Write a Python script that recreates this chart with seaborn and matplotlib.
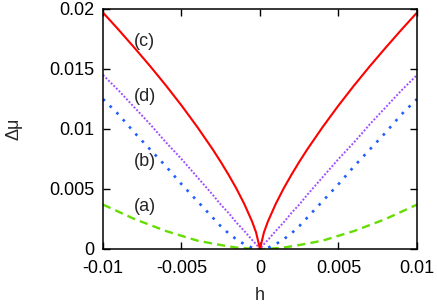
import matplotlib
matplotlib.use("Agg")
import matplotlib.pyplot as plt
import seaborn as sns
import pandas as pd

# h grid, symmetric about 0
h = [-0.01, -0.009, -0.008, -0.007, -0.006, -0.005, -0.004, -0.003, -0.0025, -0.002,
     -0.0015, -0.001, -0.0005, -0.00025,
     0.0,
     0.00025, 0.0005, 0.001, 0.0015,
     0.002, 0.0025, 0.003, 0.004, 0.005, 0.006, 0.007, 0.008, 0.009, 0.01]

mu_a = [0.0037, 0.0031, 0.0025, 0.0020, 0.0015, 0.0011, 0.0007, 0.00045, 0.00033, 0.00022,
        0.00012, 0.00006, 0.00002, 0.000005,
        0.0,
        0.000005, 0.00002, 0.00006, 0.00012,
        0.00022, 0.00033, 0.00045, 0.0007, 0.0011, 0.0015, 0.0020, 0.0025, 0.0031, 0.0037]
mu_b = [0.0125, 0.0112, 0.0097, 0.0083, 0.0069, 0.0054, 0.0040, 0.0026, 0.0019, 0.0013,
        0.0008, 0.0004, 0.0001, 0.00003,
        0.0,
        0.00003, 0.0001, 0.0004, 0.0008,
        0.0013, 0.0019, 0.0026, 0.0040, 0.0054, 0.0069, 0.0083, 0.0097, 0.0112, 0.0125]
mu_c = [0.0197, 0.01826, 0.01677, 0.01524, 0.01364, 0.01196, 0.01018, 0.00828, 0.00726, 0.00618,
        0.00503, 0.00375, 0.00228, 0.00138,
        0.0,
        0.00138, 0.00228, 0.00375, 0.00503,
        0.00618, 0.00726, 0.00828, 0.01018, 0.01196, 0.01364, 0.01524, 0.01677, 0.01826, 0.0197]
mu_d = [0.0145, 0.0132, 0.0118, 0.0104, 0.0089, 0.0075, 0.0060, 0.0045, 0.0037, 0.0030,
        0.0022, 0.0015, 0.00075, 0.0004,
        0.0,
        0.0004, 0.00075, 0.0015, 0.0022,
        0.0030, 0.0037, 0.0045, 0.0060, 0.0075, 0.0089, 0.0104, 0.0118, 0.0132, 0.0145]

xticks = [-0.01, -0.005, 0, 0.005, 0.01]
xtick_labels = ["-0.01", "-0.005", "0", "0.005", "0.01"]
yticks = [0, 0.005, 0.01, 0.015, 0.02]
ytick_labels = ["0", "0.005", "0.01", "0.015", "0.02"]

sns.set_style("ticks")
plt.rcParams['font.family'] = ['Liberation Sans', 'DejaVu Sans']
plt.rcParams['axes.unicode_minus'] = False

fig = plt.figure(figsize=(4.37, 3.08), dpi=100)
ax = fig.add_axes([0.2357, 0.1916, 0.7185, 0.7792])

df = pd.DataFrame({"h": h, "a": mu_a, "b": mu_b, "c": mu_c, "d": mu_d})

sns.lineplot(data=df, x="h", y="a", ax=ax, color="#66dd00", linewidth=1.7,
             linestyle=(0, (3.5, 2.2)))
sns.lineplot(data=df, x="h", y="b", ax=ax, color="#1f5fff", linewidth=1.9,
             linestyle=(0, (1, 2.6)))
sns.lineplot(data=df, x="h", y="d", ax=ax, color="#a050ff", linewidth=1.4,
             linestyle=(0, (1, 0.9)))
sns.lineplot(data=df, x="h", y="c", ax=ax, color="#ff0000", linewidth=1.5)

fs = 13
ax.text(-0.00733, 0.01725, "(c)", fontsize=fs, ha="center", va="center")
ax.text(-0.00733, 0.01267, "(d)", fontsize=fs, ha="center", va="center")
ax.text(-0.00733, 0.00725, "(b)", fontsize=fs, ha="center", va="center")
ax.text(-0.00733, 0.0035, "(a)", fontsize=fs, ha="center", va="center")

ax.set_xlim(-0.01, 0.01)
ax.set_ylim(0, 0.02)
ax.set_xticks(xticks)
ax.set_xticklabels(xtick_labels)
ax.set_yticks(yticks)
ax.set_yticklabels(ytick_labels)
ax.tick_params(direction="in", length=5, width=1, top=True, right=True,
               labelsize=fs, colors="black")
ax.tick_params(axis="x", pad=8)
ax.tick_params(axis="y", pad=6)
for s in ax.spines.values():
    s.set_linewidth(1.1)
    s.set_color("black")
ax.set_xlabel("h", fontsize=fs)
ax.set_ylabel("Δμ", fontsize=fs)
ax.xaxis.set_label_coords(0.5, -0.16)
ax.yaxis.set_label_coords(-0.255, 0.5)

fig.savefig("out.png", dpi=100)
